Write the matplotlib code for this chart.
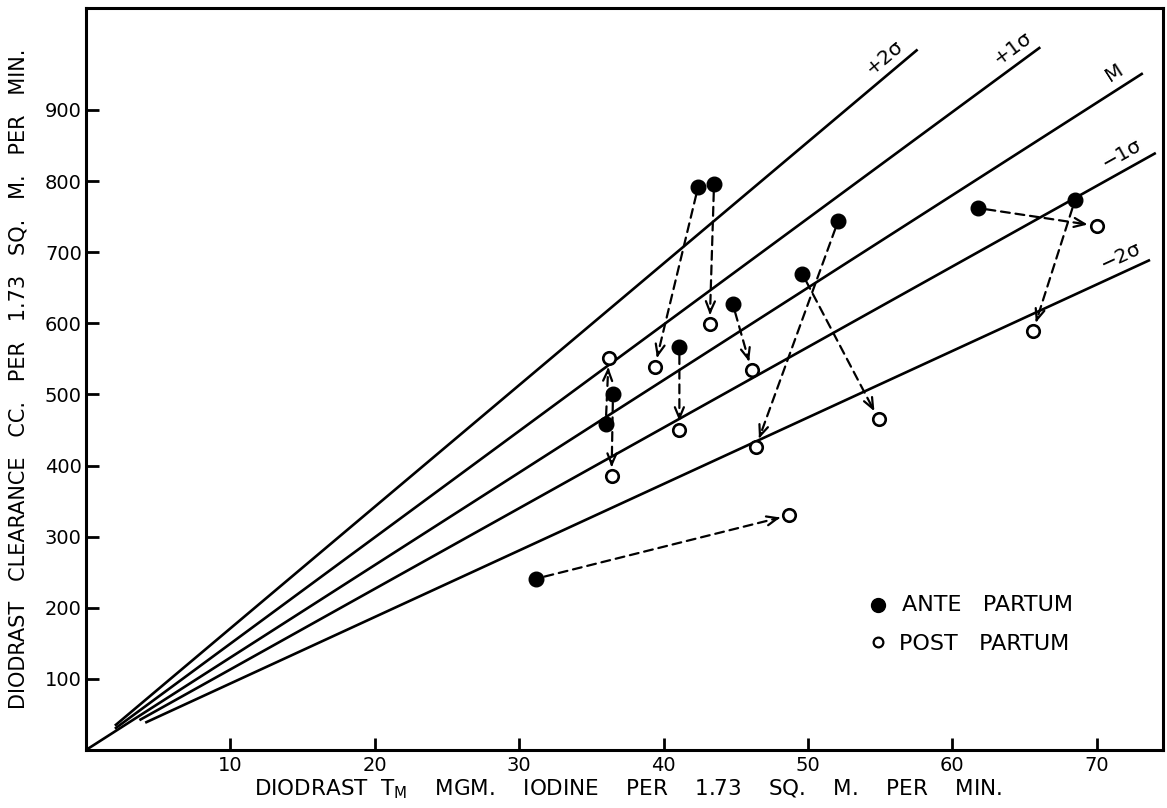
import numpy as np
import matplotlib.pyplot as plt

# ante partum (filled) -> post partum (open), same order = same subject
ante_x = [42.4, 43.5, 36.0, 36.5, 41.1, 44.8, 52.1, 49.6, 61.8, 68.5, 31.2]
ante_y = [792, 796, 459, 500, 567, 627, 744, 670, 762, 773, 241]
post_x = [39.4, 43.2, 36.2, 36.4, 41.1, 46.1, 46.4, 54.9, 70.0, 65.6, 48.7]
post_y = [539, 599, 551, 385, 450, 534, 426, 465, 737, 589, 330]

# reference lines (mean and +/- sigma), y = slope * x
line_labels = ['+2σ', '+1σ', 'M', '−1σ', '−2σ']
line_slopes = [17.1, 14.95, 13.0, 11.33, 9.35]
line_start = [2.0, 2.0, 0.0, 3.7, 4.1]
line_end = [57.6, 66.1, 73.2, 74.1, 73.7]
label_x = [54.8, 63.6, 71.3, 71.0, 70.8]

x_ticks = [10, 20, 30, 40, 50, 60, 70]
y_ticks = [100, 200, 300, 400, 500, 600, 700, 800, 900]

plt.rcParams['font.family'] = ['DejaVu Sans']

fig = plt.figure(figsize=(11.67, 8.08), dpi=100)
ax = fig.add_axes([0.0737, 0.0718, 0.9229, 0.918])
ax.set_xlim(0, 74.6)
ax.set_ylim(0, 1043)

for s in ax.spines.values():
    s.set_linewidth(2.2)

ax.set_xticks(x_ticks)
ax.set_yticks(y_ticks)
ax.tick_params(direction='in', length=9, width=2.0, labelsize=14, pad=3)
ax.tick_params(axis='x', pad=4)

# sigma lines
for lab, k, x0, x1, lx in zip(line_labels, line_slopes, line_start, line_end, label_x):
    xs = np.array([x0, x1])
    ax.plot(xs, k * xs, color='black', lw=1.9, solid_capstyle='butt')
    a = ax.transData.transform((0, 0))
    b = ax.transData.transform((10, 10 * k))
    ang = np.degrees(np.arctan2(b[1] - a[1], b[0] - a[0]))
    ax.annotate(lab, xy=(lx, k * lx), xytext=(-2, 4), textcoords='offset points',
                rotation=ang, rotation_mode='anchor',
                ha='left', va='bottom', fontsize=14.5)

# dashed arrows from ante to post partum
for x0, y0, x1, y1 in zip(ante_x, ante_y, post_x, post_y):
    ax.annotate('', xy=(x1, y1), xytext=(x0, y0),
                arrowprops=dict(arrowstyle='-', lw=1.6, linestyle=(0, (4, 2.6)),
                                shrinkA=6, shrinkB=8, color='black'))
    p0 = ax.transData.transform((x0, y0))
    p1 = ax.transData.transform((x1, y1))
    d = (p0 - p1) / np.hypot(*(p0 - p1)) * 15 * 0.72
    ax.annotate('', xy=(x1, y1), xytext=(d[0], d[1]), textcoords='offset points',
                arrowprops=dict(arrowstyle='->,head_length=0.6,head_width=0.25',
                                lw=1.6, shrinkA=0, shrinkB=6.5, color='black',
                                mutation_scale=13))

ax.plot(ante_x, ante_y, 'o', ms=10.5, color='black', zorder=5)
ax.plot(post_x, post_y, 'o', ms=9, mfc='white', mec='black', mew=1.9, zorder=5)

# legend
ax.plot([0.735], [0.196], 'o', ms=10, color='black', transform=ax.transAxes)
ax.plot([0.735], [0.146], 'o', ms=7, mfc='white', mec='black', mew=1.6,
        transform=ax.transAxes)
ax.text(0.758, 0.196, 'ANTE   PARTUM', transform=ax.transAxes, fontsize=16,
        va='center', ha='left')
ax.text(0.755, 0.143, 'POST   PARTUM', transform=ax.transAxes, fontsize=16,
        va='center', ha='left')

ax.set_xlabel('DIODRAST  T$_{\\mathrm{M}}$    MGM.    IODINE    PER    1.73    SQ.    M.    PER    MIN.',
              fontsize=15.5)
ax.set_ylabel('DIODRAST   CLEARANCE   CC.   PER   1.73   SQ.   M.   PER   MIN.',
              fontsize=15)
ax.xaxis.set_label_coords(0.503, -0.0375)
ax.xaxis.label.set_va('top')
ax.yaxis.set_label_coords(-0.063, 0.501)
ax.yaxis.label.set_va('center')

fig.savefig('out.png', dpi=100)
